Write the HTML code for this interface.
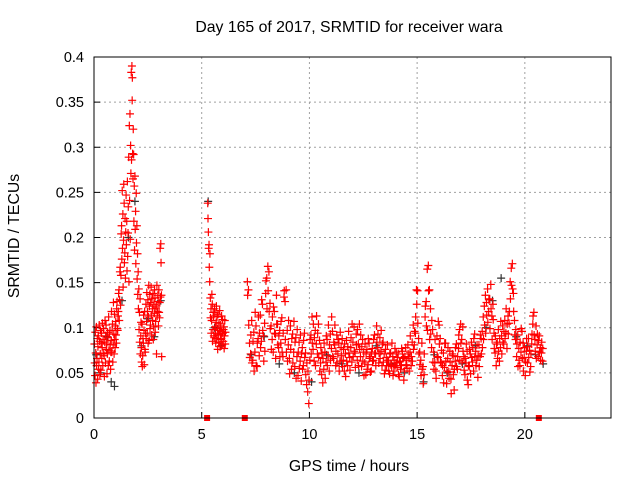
<!DOCTYPE html>
<html><head><meta charset="utf-8"><style>
body{margin:0;background:#fff}
svg{display:block;font-family:"Liberation Sans",sans-serif}
</style></head><body>
<svg id="chart" width="640" height="480" viewBox="0 0 640 480">
<text x="349" y="32" font-size="15.8" text-anchor="middle">Day 165 of 2017, SRMTID for receiver wara</text>
<text x="349" y="471" font-size="15.8" text-anchor="middle">GPS time / hours</text>
<text x="19" y="236" font-size="15.8" text-anchor="middle" transform="rotate(-90 19 236)">SRMTID / TECUs</text>
<g id="grid"></g><g id="ticks"></g><g id="marks"></g>
<rect x="94" y="57" width="517" height="361" fill="none" stroke="#000" stroke-width="1"/>
</svg>
<script>
const xTicks=[0,5,10,15,20];
const yTicks=[0,0.05,0.1,0.15,0.2,0.25,0.3,0.35,0.4];
const yLabels=["0","0.05","0.1","0.15","0.2","0.25","0.3","0.35","0.4"];
const gapMarks=[5.25,7.0,20.65];
// red series: rows of [time (h), value, value]
const redEarly=[
[0.02,0.082,0.061],[0.05,0.047,0.095],[0.08,0.072,0.039],[0.11,0.101,0.058],[0.14,0.066,0.088],[0.17,0.043,0.079],[0.2,0.091,0.054],[0.23,0.062,0.103],[0.26,0.085,0.048],[0.29,0.071,0.097],
[0.32,0.053,0.083],[0.35,0.094,0.066],[0.38,0.078,0.105],[0.41,0.058,0.087],[0.44,0.099,0.072],[0.47,0.069,0.046],[0.5,0.084,0.108],[0.53,0.061,0.091],[0.56,0.103,0.076],[0.59,0.082,0.049],
[0.62,0.071,0.095],[0.65,0.089,0.058],[0.68,0.112,0.075],[0.71,0.063,0.093],[0.74,0.097,0.081],[0.77,0.054,0.073],[0.8,0.086,0.118],[0.83,0.073,0.097],[0.86,0.104,0.062],[0.89,0.081,0.128],
[0.92,0.093,0.071],[0.95,0.115,0.087],[0.98,0.078,0.102],[1.01,0.107,0.092],[1.04,0.083,0.121],[1.07,0.129,0.099],[1.1,0.097,0.113],[1.13,0.118,0.138],[1.16,0.142,0.108],[1.19,0.131,0.162],
[1.22,0.167,0.125],[1.25,0.158,0.204],[1.28,0.213,0.176],[1.31,0.252,0.188],[1.34,0.226,0.145],[1.37,0.197,0.259],[1.4,0.238,0.172],[1.43,0.183,0.221],[1.46,0.155,0.206],[1.49,0.247,0.192],
[1.52,0.218,0.163],[1.55,0.262,0.179],[1.58,0.205,0.234],[1.61,0.289,0.151],[1.64,0.324,0.241],[1.67,0.337,0.198],[1.7,0.302,0.271],[1.73,0.383,0.286],[1.76,0.39,0.352],[1.78,0.377,0.293],
[1.81,0.265,0.32],[1.84,0.292,0.218],[1.87,0.257,0.186],[1.9,0.268,0.209],[1.93,0.229,0.171],[1.96,0.249,0.194],[1.99,0.213,0.154],[2.02,0.182,0.137],[2.05,0.162,0.121],[2.08,0.143,0.098],
[2.11,0.117,0.084],[2.14,0.132,0.071],[2.17,0.091,0.106],[2.2,0.078,0.062],[2.23,0.104,0.057],[2.26,0.069,0.088],[2.29,0.083,0.114],[2.32,0.097,0.059],[2.35,0.118,0.076],[2.38,0.073,0.094],
[2.41,0.126,0.088],[2.44,0.107,0.139],[2.47,0.094,0.118],[2.5,0.131,0.083],[2.53,0.112,0.147],[2.56,0.086,0.124],[2.59,0.137,0.099],[2.62,0.103,0.128],[2.65,0.145,0.114],[2.68,0.092,0.132],
[2.71,0.121,0.108],[2.74,0.138,0.087],[2.77,0.101,0.126],[2.8,0.116,0.142],[2.83,0.133,0.095],[2.86,0.107,0.122],[2.89,0.124,0.071],[2.92,0.147,0.113],[2.95,0.118,0.136],[2.98,0.129,0.102],
[3.01,0.142,0.117],[3.04,0.111,0.128],[3.07,0.188,0.134],[3.1,0.193,0.172],[3.13,0.136,0.068]];
const redMid=[
[5.28,0.238,0.221],[5.31,0.206,0.188],[5.34,0.192,0.167],[5.37,0.151,0.182],[5.4,0.133,0.111],[5.43,0.121,0.094],[5.46,0.108,0.137],[5.49,0.126,0.085],[5.52,0.098,0.117],[5.55,0.113,0.091],
[5.58,0.089,0.121],[5.61,0.117,0.101],[5.64,0.094,0.083],[5.67,0.106,0.124],[5.7,0.088,0.112],[5.73,0.099,0.076],[5.76,0.115,0.092],[5.79,0.084,0.105],[5.82,0.097,0.119],[5.85,0.079,0.093],
[5.88,0.103,0.087],[5.91,0.088,0.113],[5.94,0.096,0.081],[5.97,0.109,0.094],[6.0,0.085,0.098],[6.03,0.101,0.077],[6.06,0.091,0.108],[6.09,0.082,0.095]];
const redLate=[
[7.12,0.151,0.136],[7.17,0.142,0.103],[7.22,0.083,0.067],[7.27,0.071,0.092],[7.32,0.108,0.061],[7.37,0.064,0.085],[7.42,0.095,0.052],[7.47,0.073,0.117],[7.52,0.102,0.058],[7.57,0.057,0.083],
[7.62,0.088,0.112],[7.67,0.069,0.094],[7.72,0.114,0.078],[7.77,0.085,0.131],[7.82,0.126,0.097],[7.87,0.091,0.063],[7.92,0.105,0.074],[7.97,0.138,0.152],[8.02,0.155,0.121],[8.07,0.168,0.141],
[8.12,0.162,0.118],[8.17,0.127,0.099],[8.22,0.102,0.076],[8.27,0.087,0.112],[8.32,0.073,0.123],[8.37,0.118,0.094],[8.42,0.093,0.066],[8.47,0.136,0.104],[8.52,0.104,0.081],[8.57,0.078,0.091],
[8.62,0.097,0.068],[8.67,0.083,0.107],[8.72,0.111,0.073],[8.77,0.068,0.094],[8.82,0.134,0.141],[8.87,0.129,0.087],[8.92,0.142,0.073],[8.97,0.097,0.063],[9.02,0.081,0.108],[9.07,0.066,0.049],
[9.12,0.102,0.076],[9.17,0.054,0.088],[9.22,0.093,0.061],[9.27,0.073,0.107],[9.32,0.057,0.084],[9.37,0.089,0.044],[9.42,0.068,0.098],[9.47,0.047,0.073],[9.52,0.084,0.055],[9.57,0.063,0.092],
[9.62,0.041,0.071],[9.67,0.078,0.054],[9.72,0.058,0.086],[9.77,0.094,0.067],[9.82,0.072,0.048],[9.87,0.037,0.061],[9.92,0.029,0.052],[9.97,0.016,0.042],[10.02,0.064,0.087],[10.07,0.092,0.071],
[10.12,0.112,0.083],[10.17,0.076,0.104],[10.22,0.063,0.089],[10.27,0.097,0.058],[10.32,0.082,0.113],[10.37,0.071,0.094],[10.42,0.104,0.067],[10.47,0.086,0.052],[10.52,0.061,0.078],[10.57,0.048,0.072],
[10.62,0.039,0.066],[10.67,0.054,0.083],[10.72,0.073,0.044],[10.77,0.062,0.091],[10.82,0.087,0.058],[10.87,0.069,0.103],[10.92,0.052,0.081],[10.97,0.093,0.064],[11.02,0.077,0.112],[11.07,0.096,0.068],
[11.12,0.066,0.084],[11.17,0.081,0.103],[11.22,0.058,0.074],[11.27,0.092,0.061],[11.32,0.071,0.087],[11.37,0.083,0.052],[11.42,0.063,0.095],[11.47,0.078,0.069],[11.52,0.088,0.057],[11.57,0.064,0.076],
[11.62,0.052,0.082],[11.67,0.071,0.046],[11.72,0.086,0.063],[11.77,0.058,0.079],[11.82,0.096,0.072],[11.87,0.067,0.053],[11.92,0.078,0.089],[11.97,0.062,0.104],[12.02,0.084,0.068],[12.07,0.101,0.074],
[12.12,0.072,0.056],[12.17,0.093,0.081],[12.22,0.064,0.098],[12.27,0.082,0.058],[12.32,0.104,0.076],[12.37,0.068,0.092],[12.42,0.057,0.079],[12.47,0.087,0.063],[12.52,0.073,0.047],[12.57,0.061,0.082],
[12.62,0.048,0.071],[12.67,0.076,0.054],[12.72,0.059,0.088],[12.77,0.083,0.066],[12.82,0.068,0.051],[12.87,0.052,0.073],[12.92,0.077,0.063],[12.97,0.064,0.087],[13.02,0.092,0.071],[13.07,0.071,0.058],
[13.12,0.102,0.084],[13.17,0.078,0.093],[13.22,0.061,0.072],[13.27,0.089,0.066],[13.32,0.074,0.097],[13.37,0.058,0.082],[13.42,0.084,0.062],[13.47,0.071,0.049],[13.52,0.053,0.076],[13.57,0.067,0.058],
[13.62,0.081,0.064],[13.67,0.062,0.052],[13.72,0.049,0.071],[13.77,0.072,0.059],[13.82,0.057,0.083],[13.87,0.068,0.047],[13.92,0.052,0.064],[13.97,0.077,0.058],[14.02,0.061,0.073],[14.07,0.056,0.067],
[14.12,0.071,0.048],[14.17,0.046,0.062],[14.22,0.063,0.054],[14.27,0.058,0.077],[14.32,0.074,0.066],[14.37,0.067,0.042],[14.42,0.052,0.068],[14.47,0.078,0.059],[14.52,0.064,0.055],[14.57,0.081,0.071],
[14.62,0.066,0.052],[14.67,0.073,0.091],[14.72,0.058,0.068],[14.77,0.084,0.063],[14.82,0.103,0.076],[14.87,0.081,0.096],[14.92,0.094,0.112],[14.97,0.142,0.126],[15.02,0.141,0.105],[15.07,0.088,0.071],
[15.12,0.073,0.059],[15.17,0.064,0.047],[15.22,0.083,0.054],[15.27,0.057,0.038],[15.32,0.048,0.071],[15.37,0.112,0.124],[15.42,0.129,0.102],[15.47,0.165,0.097],[15.52,0.169,0.141],[15.57,0.142,0.087],
[15.62,0.121,0.093],[15.67,0.078,0.108],[15.72,0.098,0.062],[15.77,0.073,0.054],[15.82,0.061,0.087],[15.87,0.052,0.044],[15.92,0.091,0.068],[15.97,0.067,0.107],[16.02,0.103,0.082],[16.07,0.088,0.062],
[16.12,0.061,0.075],[16.17,0.047,0.058],[16.22,0.072,0.039],[16.27,0.056,0.083],[16.32,0.083,0.063],[16.37,0.038,0.052],[16.42,0.066,0.078],[16.47,0.051,0.044],[16.52,0.074,0.062],[16.57,0.043,0.027],
[16.62,0.058,0.071],[16.67,0.069,0.048],[16.72,0.031,0.054],[16.77,0.063,0.078],[16.82,0.082,0.057],[16.87,0.054,0.068],[16.92,0.077,0.092],[16.97,0.098,0.064],[17.02,0.104,0.083],[17.07,0.087,0.062],
[17.12,0.101,0.074],[17.17,0.068,0.053],[17.22,0.048,0.066],[17.27,0.061,0.082],[17.32,0.074,0.042],[17.37,0.037,0.058],[17.42,0.057,0.076],[17.47,0.071,0.049],[17.52,0.084,0.067],[17.57,0.062,0.078],
[17.62,0.052,0.088],[17.67,0.093,0.068],[17.72,0.074,0.058],[17.77,0.064,0.081],[17.82,0.045,0.069],[17.87,0.081,0.057],[17.92,0.068,0.092],[17.97,0.088,0.071],[18.02,0.096,0.078],[18.07,0.112,0.087],
[18.12,0.124,0.103],[18.17,0.136,0.094],[18.22,0.128,0.114],[18.27,0.143,0.106],[18.32,0.118,0.131],[18.37,0.132,0.099],[18.42,0.148,0.121],[18.47,0.113,0.087],[18.52,0.126,0.109],[18.57,0.094,0.077],
[18.62,0.072,0.091],[18.67,0.058,0.082],[18.72,0.084,0.066],[18.77,0.098,0.074],[18.82,0.063,0.088],[18.87,0.078,0.107],[18.92,0.091,0.071],[18.97,0.102,0.084],[19.02,0.082,0.096],[19.07,0.108,0.088],
[19.12,0.094,0.121],[19.17,0.077,0.104],[19.22,0.113,0.093],[19.27,0.105,0.118],[19.32,0.151,0.132],[19.37,0.166,0.147],[19.42,0.171,0.143],[19.47,0.138,0.118],[19.52,0.108,0.092],[19.57,0.087,0.098],
[19.62,0.068,0.082],[19.67,0.092,0.057],[19.72,0.077,0.064],[19.77,0.058,0.084],[19.82,0.073,0.099],[19.87,0.096,0.066],[19.92,0.083,0.052],[19.97,0.067,0.078],[20.02,0.047,0.062],[20.07,0.074,0.088],
[20.12,0.061,0.079],[20.17,0.088,0.067],[20.22,0.075,0.051],[20.27,0.057,0.071],[20.32,0.082,0.093],[20.37,0.104,0.113],[20.42,0.117,0.092],[20.47,0.087,0.074],[20.52,0.102,0.066],[20.57,0.081,0.093],
[20.62,0.068,0.086],[20.67,0.091,0.073],[20.72,0.078,0.064],[20.77,0.072,0.084],[20.82,0.063,0.077]];
// gray series: [time, value]
const grayPts=[[0.1,0.07],[0.3,0.05],[0.6,0.09],[0.8,0.04],[0.95,0.035],[1.3,0.13],[1.6,0.2],[1.9,0.24],[2.2,0.08],[2.5,0.11],[2.8,0.09],[3.1,0.13],[5.3,0.24],[5.6,0.1],[5.9,0.08],
[7.3,0.07],[7.9,0.09],[8.6,0.06],[9.3,0.05],[10.1,0.04],[10.8,0.07],[11.5,0.06],[12.3,0.05],[13.1,0.08],[13.8,0.06],[14.4,0.05],[15.3,0.04],[15.8,0.07],[16.4,0.05],[17.1,0.06],[17.7,0.08],[18.2,0.1],[18.5,0.13],[18.9,0.155],[19.6,0.09],[20.1,0.08],[20.5,0.07],[20.85,0.06]];

const NS='http://www.w3.org/2000/svg';
const X0=94,X1=611,Y0=418,Y1=57,XMAX=24,YMAX=0.4;
function sx(t){return X0+(X1-X0)*t/XMAX;}
function sy(v){return Y0-(Y0-Y1)*v/YMAX;}
function mk(tag,attrs,parent){const e=document.createElementNS(NS,tag);for(const k in attrs)e.setAttribute(k,attrs[k]);parent.appendChild(e);return e;}
const grid=document.getElementById('grid'),ticks=document.getElementById('ticks'),marks=document.getElementById('marks');
xTicks.forEach(t=>{
  const x=sx(t);
  if(t>0){const g=mk('line',{x1:x,x2:x,y1:Y1,y2:Y0,stroke:'#a0a0a0','stroke-dasharray':'2,3'},grid);
  
  }
  const tk=mk('line',{x1:x,x2:x,y1:Y0,y2:Y0-6,stroke:'#000'},ticks);
  
  
  const lb=mk('text',{x:x,y:Y0+21,'font-size':14.5,'text-anchor':'middle'},ticks);lb.textContent=t;
  
  
});
yTicks.forEach((v,i)=>{
  const y=sy(v);
  if(v>0&&v<YMAX){const g=mk('line',{x1:X0,x2:X1,y1:y,y2:y,stroke:'#a0a0a0','stroke-dasharray':'2,3'},grid);
  
  }
  const tk=mk('line',{x1:X0,x2:X0+6,y1:y,y2:y,stroke:'#000'},ticks);
  
  
  const lb=mk('text',{x:X0-10,y:y+5,'font-size':14.5,'text-anchor':'end'},ticks);lb.textContent=yLabels[i];
  
  
});
function plus(t,v,col,name){
  const x=sx(t),y=sy(v);
  const p=mk('path',{d:`M${x-4},${y}H${x+4}M${x},${y-4}V${y+4}`,stroke:col,'stroke-width':1.2,fill:'none'},marks);
  
  
}
grayPts.forEach(p=>plus(p[0],p[1],'#333','gray-point'));
[redEarly,redMid,redLate].forEach(seg=>seg.forEach(r=>{
  plus(r[0],r[1],'#ff0000','red-point');
  plus(r[0]+0.012,r[2],'#ff0000','red-point');
}));
gapMarks.forEach(t=>{
  const r=mk('rect',{x:sx(t)-3,y:Y0-3,width:6,height:6,fill:'#ff0000'},marks);
  
  
});
</script>
</body></html>
